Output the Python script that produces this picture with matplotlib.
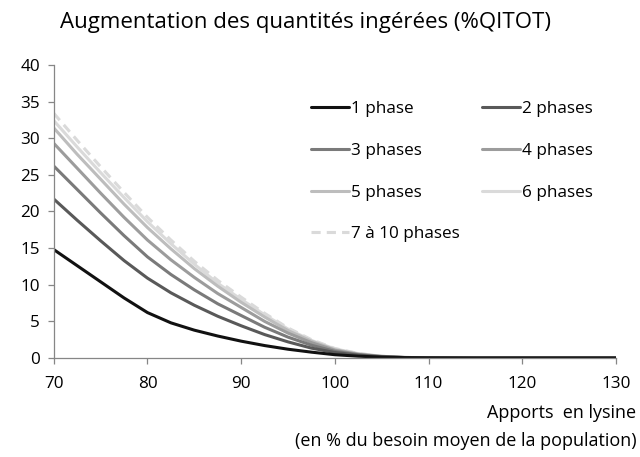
import matplotlib
matplotlib.use("Agg")
import matplotlib.pyplot as plt

plt.rcParams["font.family"] = ["Open Sans", "DejaVu Sans"]

# Apports en lysine (% du besoin moyen)
x = [70, 72.5, 75, 77.5, 80, 82.5, 85, 87.5, 90, 92.5, 95, 97.5, 100,
     102.5, 105, 107.5, 110, 115, 120, 125, 130]

# Augmentation des quantités ingérées (%QITOT)
phase_1 = [14.8, 12.6, 10.4, 8.2, 6.2, 4.8, 3.8, 3.0, 2.3, 1.7, 1.2, 0.8, 0.45,
           0.25, 0.12, 0.05, 0.02, 0, 0, 0, 0]
phase_2 = [21.7, 18.8, 16.0, 13.3, 10.9, 8.9, 7.2, 5.7, 4.4, 3.2, 2.2, 1.35, 0.75,
           0.38, 0.16, 0.06, 0.02, 0, 0, 0, 0]
phase_3 = [26.2, 23.0, 19.8, 16.7, 13.8, 11.4, 9.3, 7.4, 5.8, 4.2, 2.85, 1.75, 0.9,
           0.45, 0.18, 0.06, 0.02, 0, 0, 0, 0]
phase_4 = [29.3, 25.9, 22.5, 19.2, 16.1, 13.4, 11.0, 8.8, 6.9, 5.0, 3.4, 2.1, 1.05,
           0.5, 0.2, 0.07, 0.02, 0, 0, 0, 0]
phase_5 = [31.4, 27.8, 24.4, 21.0, 17.8, 14.9, 12.2, 9.8, 7.6, 5.6, 3.75, 2.3, 1.15,
           0.55, 0.22, 0.08, 0.02, 0, 0, 0, 0]
phase_6 = [32.4, 28.8, 25.3, 21.9, 18.6, 15.6, 12.8, 10.2, 8.0, 5.9, 3.95, 2.4, 1.25,
           0.6, 0.24, 0.08, 0.02, 0, 0, 0, 0]
phase_7_10 = [33.4, 29.7, 26.1, 22.6, 19.2, 16.1, 13.2, 10.6, 8.3, 6.1, 4.1, 2.5, 1.3,
              0.62, 0.25, 0.08, 0.02, 0, 0, 0, 0]

labels = ["1 phase", "2 phases", "3 phases", "4 phases", "5 phases", "6 phases",
          "7 à 10 phases"]

fig = plt.figure(figsize=(6.4, 4.57), dpi=100)
ax = fig.add_axes([0.084, 0.2166, 0.8785, 0.6414])

series = [phase_1, phase_2, phase_3, phase_4, phase_5, phase_6, phase_7_10]
colors = ["#111111", "#595959", "#7a7a7a", "#9c9c9c", "#bdbdbd", "#dadada", "#dadada"]
styles = ["-", "-", "-", "-", "-", "-", (0, (3, 2))]

handles = {}
# draw lightest first so dark lines stay on top
for vals, col, ls, lab in reversed(list(zip(series, colors, styles, labels))):
    line, = ax.plot(x, vals, color=col, linestyle=ls, linewidth=2.2, label=lab,
                    solid_capstyle="round")
    handles[lab] = line

ax.set_xlim(70, 130)
ax.set_ylim(0, 40)
ax.set_xticks([70, 80, 90, 100, 110, 120, 130])
ax.set_yticks(range(0, 41, 5))

for side in ["top", "right"]:
    ax.spines[side].set_visible(False)
for side in ["left", "bottom"]:
    ax.spines[side].set_color("#868686")
    ax.spines[side].set_linewidth(0.9)
ax.tick_params(colors="#868686", labelcolor="black", labelsize=12.3,
               length=4, width=0.9)
ax.tick_params(axis="x", pad=9)
ax.tick_params(axis="y", pad=6)

# row-wise legend order: 1,2 / 3,4 / 5,6 / 7
order = [labels[i] for i in (0, 2, 4, 6, 1, 3, 5)]
ax.legend([handles[l] for l in order], order, ncol=2, frameon=False,
          fontsize=12.3, loc="upper left", bbox_to_anchor=(0.446, 0.899),
          handlelength=2.2, handletextpad=0.1, columnspacing=1.35,
          labelspacing=1.5, borderaxespad=0)

fig.text(0.094, 0.950, "Augmentation des quantités ingérées (%QITOT)",
         fontsize=16, ha="left", va="center")
fig.text(0.994, 0.096, "Apports  en lysine", fontsize=13, ha="right", va="center")
fig.text(0.994, 0.036, "(en % du besoin moyen de la population)", fontsize=13,
         ha="right", va="center")

fig.savefig("out.png", dpi=100)
